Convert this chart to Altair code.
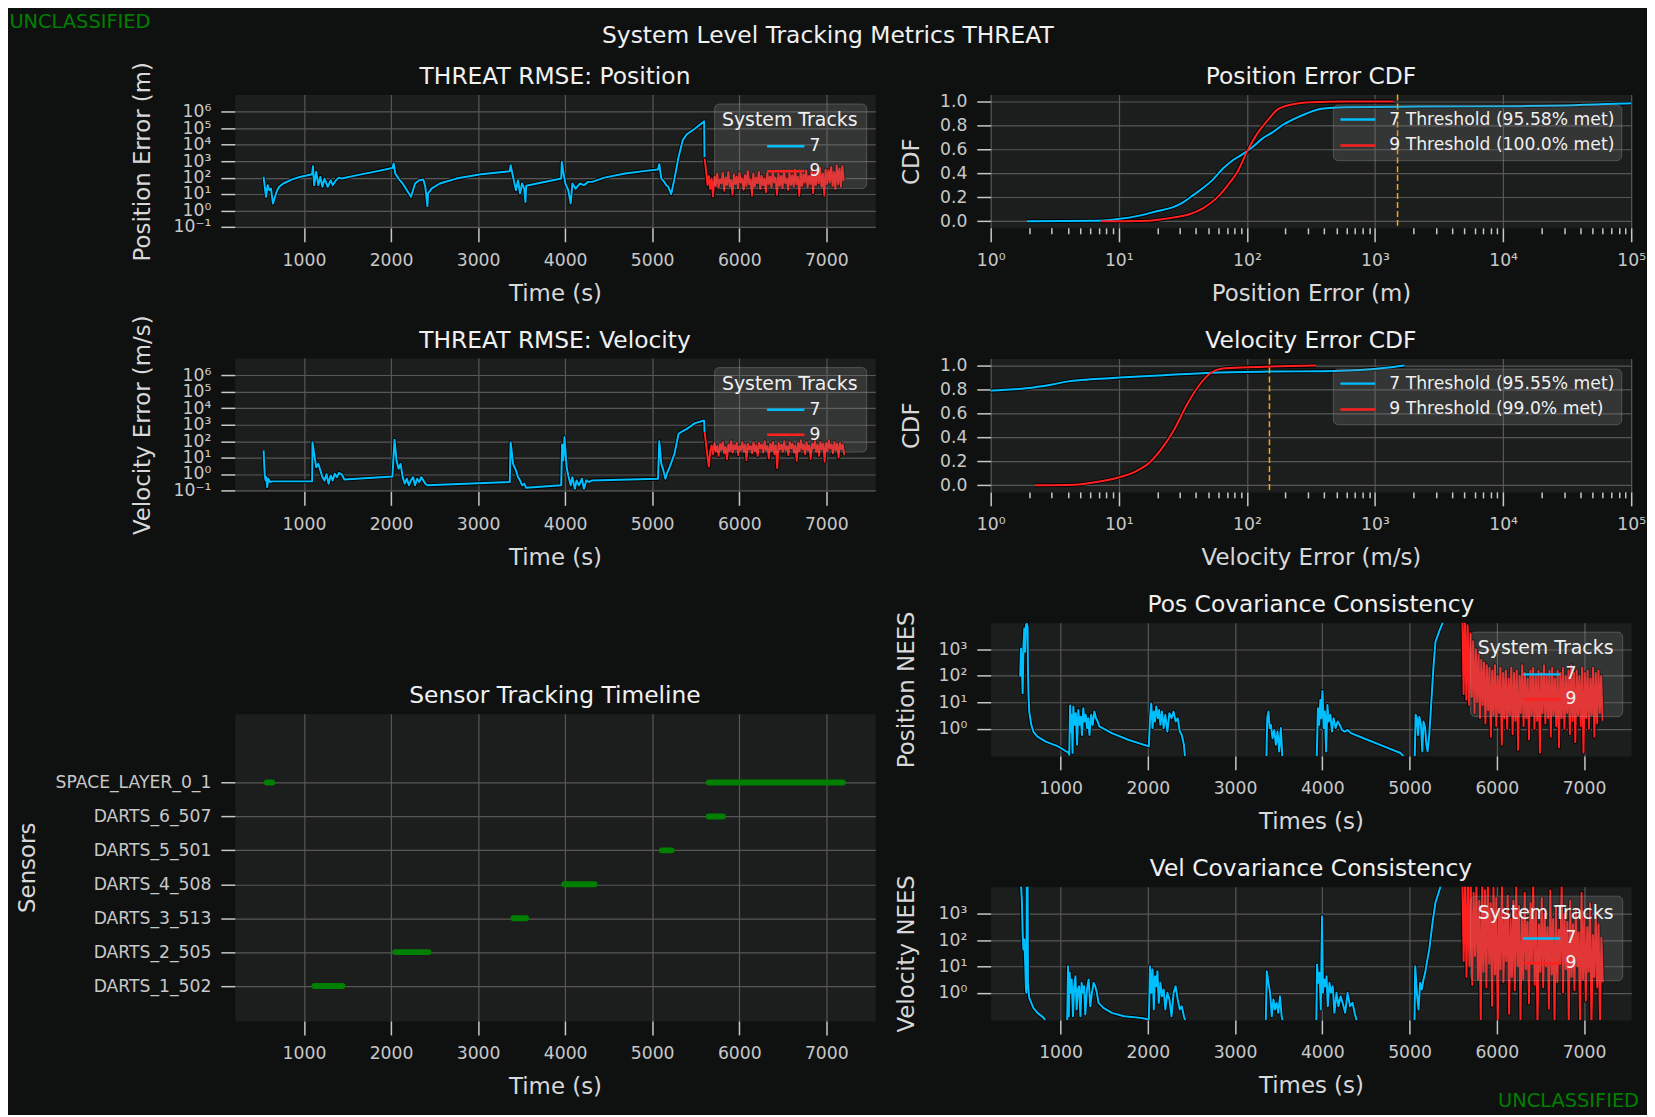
import altair as alt
import numpy as np
import pandas as pd

FONT = "DejaVu Sans"
BLUE = "#00bfff"
RED = "#ff2020"
GREEN = "#008000"
ORANGE = "#ffa500"
BG = "#0f1111"
PLOT_BG = "#1c1d1d"
GRID = "#575757"
TICK = "#c8c8c8"
LABEL = "#c8c8c8"
AXTITLE = "#d8d8d8"
TITLE = "#f0f0f0"

FS_TICK = 17.3
FS_AXT = 23
FS_TITLE = 23.5
FS_SUP = 23.5
FS_LEG = 17.3
FS_LEGT = 19
FS_UNC = 19.5

W = 644
H = 134
H_TL = 309

# ---------------- axis tick values ----------------
time_ticks = [1000, 2000, 3000, 4000, 5000, 6000, 7000]
rmse_ticks = [0.1, 1, 10, 100, 1e3, 1e4, 1e5, 1e6]
nees_ticks = [1, 10, 100, 1000]
decades = [1, 10, 100, 1e3, 1e4, 1e5]
minor_ticks = [2, 3, 4, 5, 6, 7, 8, 9, 20, 30, 40, 50, 60, 70, 80, 90,
               200, 300, 400, 500, 600, 700, 800, 900,
               2000, 3000, 4000, 5000, 6000, 7000, 8000, 9000,
               20000, 30000, 40000, 50000, 60000, 70000, 80000, 90000]
cdf_ticks = [0.0, 0.2, 0.4, 0.6, 0.8, 1.0]

# ---------------- RMSE position (log10 of metres) ----------------
rp7_t = [536, 550, 564, 583, 602, 621, 644, 668, 690, 715, 763, 857, 952, 1094, 1103, 1117, 1141, 1165, 1188, 1212,
         1236, 1273, 1307, 1330, 1368, 1401, 1434, 1614, 1803, 2016, 2030, 2049, 2087, 2134, 2182, 2229, 2253, 2276,
         2324, 2371, 2394, 2418, 2425, 2465, 2560, 2749, 3033, 3364, 3374, 3402, 3435, 3459, 3482, 3506, 3530, 3544,
         3553, 3955, 3962, 3975, 4003, 4036, 4064, 4083, 4121, 4168, 4216, 4263, 4310, 4452, 4689, 4925, 5067, 5081,
         5105, 5138, 5162, 5185, 5218, 5256, 5303, 5351, 5398, 5493, 5597, 5601]
rp7_lg = [2.04, 1.44, 0.83, 1.54, 1.23, 1.33, 0.42, 0.83, 1.20, 1.44, 1.64, 1.88, 2.04, 2.21, 2.69, 1.54, 2.35, 1.54,
          2.04, 1.44, 1.94, 1.44, 1.84, 1.54, 1.84, 2.00, 1.94, 2.15, 2.35, 2.59, 2.86, 2.25, 1.94, 1.64, 1.23, 0.83,
          1.23, 1.64, 1.84, 1.88, 1.44, 0.26, 1.03, 1.33, 1.64, 1.94, 2.21, 2.39, 2.75, 2.04, 1.23, 1.84, 1.03, 1.64,
          1.33, 0.52, 1.50, 1.94, 2.96, 2.45, 1.64, 1.23, 0.42, 1.64, 1.33, 1.64, 1.54, 1.74, 1.74, 2.00, 2.25, 2.41,
          2.49, 2.82, 1.94, 1.74, 1.54, 1.44, 0.99, 1.94, 3.26, 4.28, 4.64, 4.99, 5.43, 3.26]
rp9_span = (5603, 7200)
rp9_lg = [3.16, 2.40, 1.55, 2.10, 1.30, 1.95, 0.85, 2.05, 1.50, 2.25, 1.40, 1.90, 1.65, 2.30, 1.20, 2.00, 1.55, 2.35,
          1.45, 1.85, 0.95, 2.20, 1.60, 2.05, 1.35, 2.30, 1.70, 1.95, 1.25, 2.15, 1.50, 2.40, 1.60, 1.90, 0.90, 2.25,
          1.45, 2.00, 1.65, 2.35, 1.30, 2.10, 1.55, 1.95, 1.10, 2.30, 1.60, 2.05, 1.40, 2.40, 1.70, 2.00, 0.95, 2.25,
          1.50, 2.10, 1.35, 2.45, 1.65, 1.95, 1.25, 2.30, 1.55, 2.15, 1.45, 2.50, 1.60, 2.05, 0.90, 2.35, 1.50, 2.20,
          1.70, 2.45, 1.40, 2.10, 1.60, 2.55, 1.05, 2.30, 1.55, 2.40, 1.65, 2.60, 1.45, 2.25, 0.90, 2.50, 1.60, 2.45,
          1.70, 2.65, 1.50, 2.35, 1.30, 2.75, 1.60, 2.55, 1.45, 2.70, 1.80]

# ---------------- RMSE velocity (log10 of m/s) ----------------
rv7_t = [536, 550, 560, 568, 578, 590, 610, 640, 1094, 1098, 1117, 1141, 1165, 1188, 1212, 1236, 1259, 1283, 1307,
         1330, 1354, 1378, 1401, 1434, 1463, 2016, 2040, 2063, 2087, 2110, 2134, 2158, 2182, 2205, 2229, 2253, 2276,
         2300, 2324, 2347, 2371, 2394, 2418, 3364, 3374, 3402, 3435, 3459, 3482, 3506, 3530, 3553, 3955, 3965, 3979,
         3993, 4017, 4036, 4064, 4083, 4112, 4131, 4159, 4192, 4216, 4244, 4272, 4310, 5067, 5081, 5105, 5128, 5152,
         5176, 5200, 5256, 5303, 5351, 5398, 5493, 5597, 5601]
rv7_lg = [1.44, -0.09, -0.39, -0.19, -0.80, -0.29, -0.49, -0.45, -0.45, 1.94, 1.23, 0.42, 0.62, 0.22, -0.19, -0.39,
          -0.02, -0.59, -0.09, -0.39, 0.02, -0.19, 0.06, -0.02, -0.33, -0.15, 2.09, 0.83, 0.32, 0.62, -0.19, -0.59,
          -0.29, -0.69, -0.39, -0.19, -0.69, -0.29, -0.49, -0.19, -0.39, -0.59, -0.69, -0.49, 1.94, 0.62, 0.22, -0.19,
          -0.39, -0.69, -0.59, -0.84, -0.69, 1.80, 0.83, 2.25, 0.42, -0.09, -0.69, -0.19, -0.90, -0.39, -0.69, -0.29,
          -0.90, -0.39, -0.49, -0.39, -0.29, 2.00, 0.62, 0.22, -0.29, 0.12, 0.42, 1.23, 2.45, 2.61, 2.75, 3.10, 3.26,
          2.55]
rv9_span = (5603, 7205)
rv9_lg = [2.55, 1.80, 1.05, 0.45, 1.40, 1.75, 1.20, 1.90, 1.35, 1.70, 1.10, 1.85, 1.45, 1.95, 1.25, 1.65, 0.90, 1.80,
          1.40, 2.00, 1.30, 1.75, 1.50, 1.90, 1.15, 1.70, 1.45, 1.95, 1.35, 1.80, 0.85, 1.85, 1.50, 1.70, 1.25, 1.95,
          1.40, 1.75, 1.10, 1.90, 1.55, 1.80, 1.30, 2.00, 1.45, 1.70, 0.95, 1.85, 1.40, 1.95, 1.20, 1.75, 0.35, 1.90,
          1.50, 1.80, 1.35, 2.00, 1.45, 1.70, 1.15, 1.95, 1.55, 1.85, 1.30, 1.75, 0.80, 1.90, 1.40, 2.05, 1.50, 1.80,
          1.20, 1.95, 1.45, 1.75, 0.90, 1.85, 1.55, 2.00, 1.35, 1.80, 1.10, 1.95, 1.50, 1.85, 0.75, 1.90, 1.40, 2.05,
          1.55, 1.80, 1.25, 1.95, 1.45, 1.85, 1.00, 1.90, 1.50, 1.80, 1.15]

# ---------------- Position NEES (log10) ----------------
np7_t = [538, 547, 557, 566, 575, 585, 594, 604, 613, 623, 627, 632, 642, 665, 689, 736, 831, 972, 1095, 1100, 1110,
         1119, 1128, 1138, 1147, 1161, 1176, 1190, 1204, 1218, 1232, 1246, 1261, 1275, 1289, 1303, 1317, 1332, 1351,
         1369, 1388, 1407, 1426, 1445, 1587, 1776, 2012, 2026, 2040, 2055, 2069, 2083, 2097, 2116, 2130, 2145, 2163,
         2182, 2201, 2225, 2248, 2272, 2296, 2319, 2343, 2367, 2390, 2414, 2428, 2440, 3350, 3359, 3369, 3383, 3397,
         3411, 3430, 3449, 3468, 3487, 3506, 3525, 3543, 3560, 3925, 3936, 3950, 3964, 3978, 3988, 4002, 4016, 4030,
         4044, 4059, 4073, 4092, 4111, 4129, 4153, 4177, 4200, 4224, 4257, 4290, 4328, 4517, 4706, 4895, 4950, 5050,
         5060, 5070, 5084, 5098, 5112, 5131, 5146, 5160, 5179, 5193, 5207, 5226, 5250, 5273, 5297, 5344, 5391, 5420]
np7_lg = [1.96, 3.03, 2.40, 1.34, 3.09, 3.78, 2.90, 3.90, 3.96, 3.84, 2.27, 1.40, 0.65, 0.15, -0.10, -0.29, -0.48,
          -0.66, -0.91, -0.98, 0.88, -0.10, 0.53, -0.91, 0.84, 0.15, 0.59, -0.60, 0.71, 0.15, 0.46, -0.23, 0.78, 0.28,
          0.53, 0.03, 0.40, -0.23, 0.53, 0.15, 0.65, 0.40, 0.28, 0.09, -0.16, -0.41, -0.66, 0.40, 0.96, 0.03, 0.65,
          0.28, 0.84, 0.40, 0.71, 0.15, 0.65, 0.03, 0.53, -0.10, 0.59, 0.40, 0.65, 0.28, 0.40, -0.10, -0.23, -0.60,
          -1.10, -1.50, -1.50, -1.20, 0.40, 0.65, 0.03, 0.15, -0.35, -0.04, -0.60, -0.10, -0.85, 0.03, -1.10, -1.50,
          -1.50, -1.10, 0.78, 0.15, 1.09, 0.40, 1.43, 0.03, 0.65, -0.85, 0.90, 0.28, 0.53, -0.10, 0.40, 0.03, 0.28,
          0.15, -0.04, -0.10, -0.04, -0.16, -0.41, -0.66, -0.91, -1.10, -1.30, -0.98, 0.53, 0.40, -0.23, 0.46, 0.15,
          -0.85, 0.28, 0.03, -0.60, -0.85, -0.23, 1.03, 2.28, 3.28, 3.71, 4.09, 4.50]
np9_span = (5604, 7212)
np9_lg = [4.5, 1.3, 4.3, 1.1, 3.9, 0.9, 3.6, 1.2, 3.3, 0.6, 3.0, 1.0, 2.8, 0.4, 2.6, 0.9, 2.5, 0.2, 2.4, 0.7,
          2.3, -0.3, 2.2, 0.5, 2.4, 0.1, 2.0, 0.6, 2.3, -0.6, 2.1, 0.4, 2.2, 0.0, 1.9, 0.5, 2.3, -0.2, 2.1, 0.3,
          2.2, -0.8, 2.0, 0.6, 2.4, 0.1, 2.1, 0.4, 1.9, -0.4, 2.2, 0.5, 2.3, 0.0, 2.0, 0.3, 2.2, -0.9, 2.1, 0.6,
          2.4, 0.2, 2.0, 0.4, 2.2, -0.3, 2.3, 0.5, 1.9, 0.1, 2.2, -0.7, 2.1, 0.4, 2.3, 0.0, 2.0, 0.6, 2.2, -0.2,
          2.4, 0.3, 2.1, -0.5, 2.2, 0.5, 2.0, 0.1, 2.3, -0.9, 2.1, 0.4, 2.2, 0.0, 1.9, 0.5, 2.3, -0.3, 2.1, 0.2,
          2.2, 0.6, 2.0, 0.3]

# ---------------- Velocity NEES (log10) ----------------
nv7_t = [540, 547, 557, 566, 575, 585, 594, 604, 609, 613, 623, 627, 642, 689, 736, 807, 854, 1075, 1086, 1095, 1105,
         1114, 1128, 1143, 1157, 1171, 1185, 1199, 1213, 1228, 1242, 1256, 1270, 1284, 1303, 1322, 1341, 1360, 1379,
         1398, 1417, 1436, 1492, 1587, 1729, 1918, 1989, 2010, 2026, 2040, 2055, 2069, 2083, 2097, 2111, 2126, 2145,
         2163, 2182, 2201, 2225, 2248, 2272, 2296, 2319, 2343, 2367, 2390, 2414, 2437, 2450, 3350, 3364, 3383, 3402,
         3421, 3440, 3458, 3477, 3496, 3515, 3534, 3553, 3565, 3930, 3940, 3955, 3969, 3983, 3997, 4007, 4021, 4035,
         4049, 4063, 4082, 4101, 4120, 4139, 4163, 4186, 4210, 4233, 4262, 4290, 4318, 4347, 4375, 4403, 4420, 5055,
         5065, 5084, 5103, 5122, 5141, 5160, 5179, 5198, 5226, 5263, 5297, 5320, 5344, 5368, 5415]
nv7_lg = [4.30, 4.11, 3.54, 2.28, 1.65, 2.03, 1.27, 0.13, 0.00, 4.20, 4.20, 0.38, -0.19, -0.57, -0.76, -0.95, -1.20,
          -1.50, 1.01, -0.89, 0.76, 0.00, 0.51, -0.89, 0.25, 0.63, -0.63, 0.13, 0.25, -0.89, 0.38, 0.00, 0.25, -0.82,
          0.13, 0.51, -0.51, 0.00, 0.38, 0.25, 0.00, -0.38, -0.57, -0.76, -0.89, -0.95, -0.99, -1.30, 1.01, 0.00,
          0.89, -0.63, 0.63, 0.25, 0.82, -0.38, 0.38, -0.13, 0.13, -0.63, 0.00, -0.25, -0.89, 0.00, 0.25, -0.25,
          -0.63, -0.51, -0.89, -1.14, -1.50, -1.50, 0.82, 0.38, 0.00, -0.89, -0.25, -0.63, -0.38, -0.76, -0.13,
          -0.89, -1.14, -1.50, -1.50, 1.08, 0.38, 0.76, -0.63, 2.91, 0.00, 0.51, 0.25, 0.63, -0.51, 0.38, 0.00, 0.25,
          -0.76, 0.00, -0.51, -0.13, -0.38, -0.76, 0.00, -0.51, -0.38, -0.82, -1.14, -1.50, -1.50, 1.01, 0.00, -0.63,
          0.38, 0.13, 0.51, 0.76, 1.14, 1.65, 2.66, 3.42, 3.67, 3.92, 4.18, 4.50]
nv9_span = (5604, 7215)
nv9_lg = [4.5, 1.2, 4.4, 0.6, 4.2, 1.0, 4.3, 0.3, 3.8, 1.4, 4.2, 0.5, 3.5, -1.2, 4.1, 0.8, 3.9, 0.2, 4.3, 1.1,
          3.4, -0.5, 4.0, 0.7, 3.6, -1.3, 3.2, 0.9, 4.2, 0.4, 3.0, 1.2, 3.7, -0.8, 2.8, 0.6, 3.5, 0.1, 4.1, 1.0,
          3.3, -1.2, 2.9, 0.5, 3.8, 0.9, 2.7, -0.4, 3.4, 1.1, 4.2, 0.3, 3.1, -1.3, 2.6, 0.8, 3.6, 0.2, 3.0, 1.0,
          2.5, -0.6, 3.9, 0.7, 2.8, -1.2, 3.3, 0.4, 2.4, 1.1, 4.1, 0.0, 3.0, 0.9, 2.7, -1.3, 3.5, 0.6, 2.6, 0.1,
          3.2, 1.0, 2.3, -1.2, 3.8, 0.5, 2.9, -0.3, 2.5, 0.8, 3.4, -1.3, 2.2, 0.6, 3.0, 0.2, 2.6, -1.2, 2.1, 0.4]

# ---------------- CDFs ----------------
pc7_x = [1.92, 7.1, 10.1, 14.5, 19.7, 26.9, 32.0, 38.3, 45.7, 54.5, 65.0, 77.6, 92.7, 110.7, 131.8, 157.4, 187.9,
         234, 292, 380, 594, 2239, 13180, 31620, 100000, 130000]
pc7_y = [0.0, 0.005, 0.02, 0.047, 0.084, 0.12, 0.16, 0.22, 0.28, 0.35, 0.44, 0.51, 0.56, 0.62, 0.69, 0.74, 0.80,
         0.855, 0.90, 0.94, 0.953, 0.958, 0.961, 0.967, 0.986, 0.99]
pc9_x = [7.24, 17.3, 24.5, 35.1, 45.7, 59.6, 70.8, 85.1, 101, 120, 144.5, 172, 224, 316, 589, 1400]
pc9_y = [0.0, 0.005, 0.025, 0.056, 0.11, 0.206, 0.30, 0.42, 0.59, 0.73, 0.84, 0.93, 0.975, 0.994, 1.0, 1.0]
vc7_x = [0.5, 1.0, 1.89, 2.95, 4.17, 6.03, 10.1, 22.4, 55, 158, 380, 933, 1318, 1700]
vc7_y = [0.77, 0.79, 0.81, 0.84, 0.87, 0.885, 0.90, 0.92, 0.94, 0.95, 0.953, 0.97, 0.985, 1.0]
vc9_x = [2.22, 4.57, 6.46, 10.1, 13.2, 17.4, 21.4, 26.9, 33.5, 41.7, 52.5, 64.6, 101, 347]
vc9_y = [0.0, 0.005, 0.025, 0.067, 0.11, 0.19, 0.30, 0.46, 0.66, 0.825, 0.94, 0.975, 0.986, 1.0]
pos_thr = 1500
vel_thr = 150
pos_labels = ["7 Threshold (95.58% met)", "9 Threshold (100.0% met)"]
vel_labels = ["7 Threshold (95.55% met)", "9 Threshold (99.0% met)"]

# ---------------- Sensor timeline ----------------
sensor_order = ["DARTS_1_502", "DARTS_2_505", "DARTS_3_513", "DARTS_4_508", "DARTS_5_501", "DARTS_6_507",
                "SPACE_LAYER_0_1"]
tl_sensor = ["SPACE_LAYER_0_1", "SPACE_LAYER_0_1", "DARTS_6_507", "DARTS_5_501", "DARTS_4_508", "DARTS_3_513",
             "DARTS_2_505", "DARTS_1_502"]
tl_start = [574, 5650, 5650, 5111, 3990, 3407, 2048, 1119]
tl_end = [635, 7190, 5813, 5223, 4339, 3551, 2429, 1443]

# ---------------- texts ----------------
sup_title = "System Level Tracking Metrics THREAT"
marking = "UNCLASSIFIED"

# ---------------- helpers ----------------
XDOM_L = [205, 7562]
XDOM_R = [200, 7540]
SUP = "['\u2070','\u00b9','\u00b2','\u00b3','\u2074','\u2075','\u2076','\u2077']"
POW_LABEL = "datum.value < 0.5 ? '10\u207b\u00b9' : '10' + " + SUP + "[round(log(datum.value) / LN10)]"
SENSOR_LABEL = "[" + ",".join("'%s'" % s for s in sensor_order) + "][datum.value]"
LINE_SYM = "M-2.5,0L2.5,0"
LEG_FILL = "rgba(128,128,128,0.24)"
LEG_STROKE = "rgba(190,190,190,0.28)"


def track_df(t, lg, name):
    return pd.DataFrame({"t": list(t), "v": np.power(10.0, np.array(lg, dtype=float)), "track": name})


def even_df(span, lg, name):
    return track_df(np.linspace(span[0], span[1], len(lg)), lg, name)


def text_layer(txt, x, y, align, baseline, opacity=1.0, size=FS_UNC, color=GREEN):
    return alt.Chart(pd.DataFrame({"s": [txt]})).mark_text(
        align=align, baseline=baseline, fontSize=size, color=color, opacity=opacity, font=FONT
    ).encode(text="s:N", x=alt.value(x), y=alt.value(y))


def spacer(x, y):
    # invisible anchor that fixes the outer bounds of a panel for the layout
    return text_layer(".", x, y, "left", "top", opacity=0)


def panel_title(text, top):
    return alt.TitleParams(text, offset=top + 5.1)


def legend_tracks():
    return alt.Legend(title="System Tracks", orient="top-right", offset=9, padding=8,
                      fillColor=LEG_FILL, strokeColor=LEG_STROKE,
                      cornerRadius=5, titleAnchor="middle", titleFontSize=FS_LEGT, titleColor=TITLE,
                      titleFontWeight="normal", titlePadding=7, labelFontSize=FS_LEG, labelColor=TITLE,
                      symbolType=LINE_SYM, symbolSize=225, symbolStrokeWidth=2.5,
                      symbolOffset=18, labelOffset=15, rowPadding=7)


def legend_cdf():
    return alt.Legend(title=None, orient="top-right", offset=10, padding=6.5,
                      fillColor=LEG_FILL, strokeColor=LEG_STROKE,
                      cornerRadius=5, labelFontSize=FS_LEG, labelColor=TITLE, labelLimit=400,
                      symbolType=LINE_SYM, symbolSize=196, symbolStrokeWidth=2.5,
                      symbolOffset=10, labelOffset=23, rowPadding=8)


def series_panel(df, title, xtitle, ytitle, xdom, ydom, yvals, top, sx, ytp, extra=()):
    cscale = alt.Scale(domain=["7", "9"], range=[BLUE, RED])
    x = alt.X("t:Q", scale=alt.Scale(domain=xdom, nice=False, zero=False),
              axis=alt.Axis(values=time_ticks, format="d", title=xtitle, grid=True))
    y = alt.Y("v:Q", scale=alt.Scale(type="log", domain=ydom, nice=False),
              axis=alt.Axis(values=yvals, labelExpr=POW_LABEL, title=ytitle, grid=True, titlePadding=ytp))
    base = alt.Chart(df).encode(x=x, y=y)
    outline = base.mark_line(clip=True, color="black", strokeWidth=3.8, strokeJoin="round").encode(
        detail="track:N")
    line = base.mark_line(clip=True, strokeWidth=2.0, strokeJoin="round").encode(
        color=alt.Color("track:N", scale=cscale, legend=legend_tracks()))
    return alt.layer(outline, line, spacer(sx, top), *extra).properties(
        width=W, height=H, title=panel_title(title, top))


def cdf_panel(df, thr, title, xtitle, labels, top, sx):
    cscale = alt.Scale(domain=labels, range=[BLUE, RED])
    xs = alt.Scale(type="log", domain=[1, 1e5], nice=False)
    x = alt.X("x:Q", scale=xs, axis=alt.Axis(values=decades, labelExpr=POW_LABEL, title=xtitle, grid=True))
    y = alt.Y("p:Q", scale=alt.Scale(domain=[-0.055, 1.058], nice=False, zero=False),
              axis=alt.Axis(values=cdf_ticks, format=".1f", title="CDF", grid=True, titlePadding=16))
    base = alt.Chart(df).encode(x=x, y=y)
    outline = base.mark_line(clip=True, color="black", strokeWidth=3.8, interpolate="monotone").encode(
        detail="lab:N")
    line = base.mark_line(clip=True, strokeWidth=2.0, interpolate="monotone").encode(
        color=alt.Color("lab:N", scale=cscale, legend=legend_cdf()))
    curves = alt.layer(outline, line, spacer(sx, top))
    rule = alt.Chart(pd.DataFrame({"x": [thr]})).mark_rule(
        color=ORANGE, strokeDash=[6, 3], strokeWidth=1.5
    ).encode(x=alt.X("x:Q", scale=xs, axis=alt.Axis(values=minor_ticks, tickSize=6, labels=False, grid=False,
                                                     title=None, orient="bottom")))
    return alt.layer(curves, rule).resolve_axis(x="independent").properties(
        width=W, height=H, title=panel_title(title, top))


# ---------------- build frames ----------------
rp_df = pd.concat([track_df(rp7_t, rp7_lg, "7"), even_df(rp9_span, rp9_lg, "9")], ignore_index=True)
rv_df = pd.concat([track_df(rv7_t, rv7_lg, "7"), even_df(rv9_span, rv9_lg, "9")], ignore_index=True)
np_df = pd.concat([track_df(np7_t, np7_lg, "7"), even_df(np9_span, np9_lg, "9")], ignore_index=True)
nv_df = pd.concat([track_df(nv7_t, nv7_lg, "7"), even_df(nv9_span, nv9_lg, "9")], ignore_index=True)
pc_df = pd.concat([pd.DataFrame({"x": pc7_x, "p": pc7_y, "lab": pos_labels[0]}),
                   pd.DataFrame({"x": pc9_x, "p": pc9_y, "lab": pos_labels[1]})], ignore_index=True)
vc_df = pd.concat([pd.DataFrame({"x": vc7_x, "p": vc7_y, "lab": vel_labels[0]}),
                   pd.DataFrame({"x": vc9_x, "p": vc9_y, "lab": vel_labels[1]})], ignore_index=True)
tl_df = pd.DataFrame({"sensor": tl_sensor, "start": tl_start, "end": tl_end})
tl_df["row"] = [sensor_order.index(s) for s in tl_df["sensor"]]

RMSE_DOM = [0.0871, 1.148e7]
LEFT_X = -226.6   # left edge of the whole figure relative to the left plots
RIGHT_X = -100    # common left edge of the right column relative to its plots

p_pos = series_panel(rp_df, "THREAT RMSE: Position", "Time (s)", "Position Error (m)", XDOM_L, RMSE_DOM,
                     rmse_ticks, -40, LEFT_X, 19)
p_vel = series_panel(rv_df, "THREAT RMSE: Velocity", "Time (s)", "Velocity Error (m/s)", XDOM_L, RMSE_DOM,
                     rmse_ticks, -50, 0, 19)

bars = alt.Chart(tl_df).mark_rule(strokeWidth=6, strokeCap="round", color=GREEN).encode(
    x=alt.X("start:Q", scale=alt.Scale(domain=XDOM_L, nice=False, zero=False),
            axis=alt.Axis(values=time_ticks, format="d", title="Time (s)", grid=True)),
    x2="end:Q",
    y=alt.Y("row:Q", scale=alt.Scale(domain=[-1.03, 8.03], nice=False, zero=False),
            axis=alt.Axis(values=list(range(7)), labelExpr=SENSOR_LABEL, title="Sensors", grid=True,
                          titlePadding=16)),
)
timeline = alt.layer(bars, spacer(LEFT_X, -50)).properties(
    width=W, height=H_TL, title=panel_title("Sensor Tracking Timeline", -50))

c_pos = cdf_panel(pc_df, pos_thr, "Position Error CDF", "Position Error (m)", pos_labels, -40, RIGHT_X)
c_vel = cdf_panel(vc_df, vel_thr, "Velocity Error CDF", "Velocity Error (m/s)", vel_labels, -50, RIGHT_X)

n_pos = series_panel(np_df, "Pos Covariance Consistency", "Times (s)", "Position NEES", XDOM_R,
                     [0.0955, 1.0e4], nees_ticks, -50, RIGHT_X, 20)
n_vel = series_panel(nv_df, "Vel Covariance Consistency", "Times (s)", "Velocity NEES", XDOM_R,
                     [0.0933, 1.07e4], nees_ticks, -50, RIGHT_X, 20,
                     extra=[text_layer(marking, 651.9, 221.7, "right", "alphabetic")])

# header row: origin shares the left edge of the left plots
header = alt.layer(
    text_layer(marking, LEFT_X, 0, "left", "top"),
    text_layer(sup_title, 596.4, 30.0, "center", "alphabetic", size=FS_SUP, color=TITLE),
).properties(width=600, height=38, view=alt.ViewBackground(fill="transparent", stroke="transparent"))

left_top = alt.vconcat(p_pos, p_vel, spacing=131, bounds="flush").resolve_scale(
    color="independent").resolve_legend(color="independent")
left_col = alt.vconcat(left_top, timeline, spacing=92.5).resolve_scale(
    color="independent").resolve_legend(color="independent")
right_col = alt.vconcat(c_pos, c_vel, n_pos, n_vel, spacing=131.5, bounds="flush").resolve_scale(
    color="independent").resolve_legend(color="independent")
body = alt.hconcat(left_col, right_col, spacing=14.1).resolve_scale(
    color="independent").resolve_legend(color="independent")

chart = alt.vconcat(header, body, spacing=1.0).resolve_scale(
    color="independent").resolve_legend(color="independent").properties(
    padding=0,
    background=BG,
).configure(font=FONT).configure_view(
    fill=PLOT_BG, stroke="transparent"
).configure_axis(
    labelFont=FONT, labelFontSize=FS_TICK, labelColor=LABEL, titleFont=FONT, titleFontSize=FS_AXT,
    titleColor=AXTITLE, titleFontWeight="normal", tickColor=TICK, tickSize=14, tickWidth=1.5,
    domain=False, gridColor=GRID, gridWidth=1.2, labelPadding=10, labelOverlap=False,
    labelFlush=False, labelBound=False,
).configure_axisX(titlePadding=14).configure_title(
    fontSize=FS_TITLE, color=TITLE, fontWeight="normal", font=FONT
).configure_legend(labelFont=FONT, titleFont=FONT)

chart.save("out.html", embed_options={"renderer": "svg", "actions": False})
